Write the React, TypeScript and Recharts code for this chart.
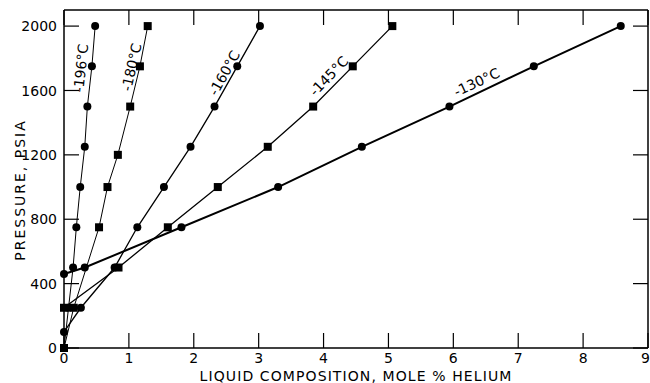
import { ReferenceDot, Scatter, ScatterChart, XAxis, YAxis } from "recharts";

const FONT = '"DejaVu Sans", sans-serif';

const xTicks = [0, 1, 2, 3, 4, 5, 6, 7, 8, 9];
const yTicks = [0, 400, 800, 1200, 1600, 2000];

// liquid composition (mole % He) vs pressure (psia), one pair per isotherm
const x196 = [0, 0.07, 0.14, 0.19, 0.25, 0.32, 0.36, 0.43, 0.48];
const p196 = [0, 250, 500, 750, 1000, 1250, 1500, 1750, 2000];

const x180 = [0, 0.15, 0.54, 0.67, 0.83, 1.02, 1.17, 1.29];
const p180 = [0, 250, 750, 1000, 1200, 1500, 1750, 2000];

const x160 = [0, 0.26, 0.78, 1.13, 1.54, 1.95, 2.32, 2.67, 3.02];
const p160 = [100, 250, 500, 750, 1000, 1250, 1500, 1750, 2000];

const x145 = [0, 0.84, 1.6, 2.37, 3.14, 3.84, 4.45, 5.06];
const p145 = [250, 500, 750, 1000, 1250, 1500, 1750, 2000];

const x130 = [0, 0.32, 1.81, 3.3, 4.59, 5.94, 7.24, 8.58];
const p130 = [460, 500, 750, 1000, 1250, 1500, 1750, 2000];

const zip = (xs: number[], ps: number[]) => xs.map((x, i) => ({ x, p: ps[i] }));

const Dot = (props: any) => <circle cx={props.cx} cy={props.cy} r={4} fill="#000" />;
const Square = (props: any) => (
  <rect x={props.cx - 4} y={props.cy - 4} width={8} height={8} fill="#000" />
);
const Nothing = () => <g />;

const isotherms = [
  { name: "-196°C", data: zip(x196, p196), shape: Dot, width: 1 },
  { name: "-180°C", data: zip(x180, p180), shape: Square, width: 1 },
  { name: "-160°C", data: zip(x160, p160), shape: Dot, width: 1.3 },
  { name: "-145°C", data: zip(x145, p145), shape: Square, width: 1.3 },
  { name: "-130°C", data: zip(x130, p130), shape: Dot, width: 2 },
];

// where each isotherm name sits, in data units, and its slant
const curveLabels = [
  { text: "-196°C", x: 0.26, p: 1739, angle: -84 },
  { text: "-180°C", x: 1.04, p: 1745, angle: -77 },
  { text: "-160°C", x: 2.47, p: 1708, angle: -61 },
  { text: "-145°C", x: 4.08, p: 1690, angle: -46 },
  { text: "-130°C", x: 6.36, p: 1652, angle: -25 },
];

const TICK_LEN = 15;
const GAP = 5;
const axisStroke = { stroke: "#000", strokeWidth: 1.5 };

// ticks point into the plot, labels sit outside
const BottomTick = (props: any) => {
  const { x, y, payload } = props;
  const axisY = y - GAP;
  const last = payload.value === 9;
  return (
    <g>
      <line x1={x} y1={axisY} x2={x} y2={axisY - TICK_LEN} stroke="#000" strokeWidth={1.2} />
      <text
        x={last ? 650 : x}
        y={y}
        dy="0.72em"
        textAnchor={last ? "end" : "middle"}
        fontFamily={FONT}
        fontSize={14}
        fill="#000"
      >
        {payload.value}
      </text>
    </g>
  );
};

const LeftTick = (props: any) => {
  const { x, y, payload } = props;
  const axisX = x + GAP;
  return (
    <g>
      <line x1={axisX} y1={y} x2={axisX + TICK_LEN} y2={y} stroke="#000" strokeWidth={1.2} />
      <text
        x={x - 2}
        y={y}
        dy="0.36em"
        textAnchor="end"
        fontFamily={FONT}
        fontSize={14}
        fill="#000"
      >
        {payload.value}
      </text>
    </g>
  );
};

const TopTick = (props: any) => (
  <line x1={props.x} y1={props.y} x2={props.x} y2={props.y + TICK_LEN} stroke="#000" strokeWidth={1.2} />
);

const RightTick = (props: any) => (
  <line x1={props.x} y1={props.y} x2={props.x - TICK_LEN} y2={props.y} stroke="#000" strokeWidth={1.2} />
);

export default function App() {
  return (
    <div style={{ position: "absolute", left: 0, top: 0, background: "#fff" }}>
      <ScatterChart width={650} height={383} margin={{ top: 9, right: 0, bottom: 0, left: 0 }}>
        <XAxis
          dataKey="x"
          type="number"
          domain={[0, 9]}
          ticks={xTicks}
          interval={0}
          height={35}
          tickSize={0}
          tickMargin={GAP}
          tick={<BottomTick />}
          tickLine={false}
          axisLine={axisStroke}
          label={{
            content: (props: any) => {
              const vb = props.viewBox;
              return (
                <text
                  x={vb.x + vb.width / 2}
                  y={vb.y + vb.height - 2}
                  textAnchor="middle"
                  fontFamily={FONT}
                  fontSize={14}
                  letterSpacing={1.1}
                  fill="#000"
                >
                  LIQUID COMPOSITION, MOLE % HELIUM
                </text>
              );
            },
          }}
        />
        <XAxis
          xAxisId="top"
          orientation="top"
          dataKey="x"
          type="number"
          domain={[0, 9]}
          ticks={xTicks}
          interval={0}
          height={1}
          tickSize={0}
          tickMargin={0}
          tick={<TopTick />}
          tickLine={false}
          axisLine={axisStroke}
        />
        <YAxis
          dataKey="p"
          type="number"
          domain={[0, 2100]}
          ticks={yTicks}
          interval={0}
          width={64}
          tickSize={0}
          tickMargin={GAP}
          tick={<LeftTick />}
          tickLine={false}
          axisLine={axisStroke}
          label={{
            content: (props: any) => {
              const vb = props.viewBox;
              const cx = vb.x + 20;
              const cy = vb.y + vb.height / 2 + 11;
              return (
                <text
                  x={cx}
                  y={cy}
                  transform={`rotate(-90 ${cx} ${cy})`}
                  textAnchor="middle"
                  dominantBaseline="central"
                  fontFamily={FONT}
                  fontSize={14}
                  letterSpacing={2}
                  fill="#000"
                >
                  PRESSURE, PSIA
                </text>
              );
            },
          }}
        />
        <YAxis
          yAxisId="right"
          orientation="right"
          dataKey="p"
          type="number"
          domain={[0, 2100]}
          ticks={yTicks}
          interval={0}
          width={2}
          tickSize={0}
          tickMargin={0}
          tick={<RightTick />}
          tickLine={false}
          axisLine={axisStroke}
        />
        {isotherms.map((s) => (
          <Scatter
            key={s.name}
            name={s.name}
            data={s.data}
            shape={s.shape}
            line={{ stroke: "#000", strokeWidth: s.width }}
            lineType="joint"
            isAnimationActive={false}
          />
        ))}
        {/* invisible copy so the mirrored top/right frame axes get drawn */}
        <Scatter
          xAxisId="top"
          yAxisId="right"
          data={isotherms[4].data}
          shape={Nothing}
          isAnimationActive={false}
        />
        {curveLabels.map((l) => (
          <ReferenceDot
            key={l.text}
            x={l.x}
            y={l.p}
            r={1}
            fill="none"
            stroke="none"
            label={{
              content: (props: any) => {
                const vb = props.viewBox;
                const cx = vb.x + vb.width / 2;
                const cy = vb.y + vb.height / 2;
                return (
                  <text
                    x={cx}
                    y={cy}
                    transform={`rotate(${l.angle} ${cx} ${cy})`}
                    textAnchor="middle"
                    dominantBaseline="central"
                    fontFamily={FONT}
                    fontSize={14}
                    fill="#000"
                  >
                    {l.text}
                  </text>
                );
              },
            }}
          />
        ))}
      </ScatterChart>
    </div>
  );
}
